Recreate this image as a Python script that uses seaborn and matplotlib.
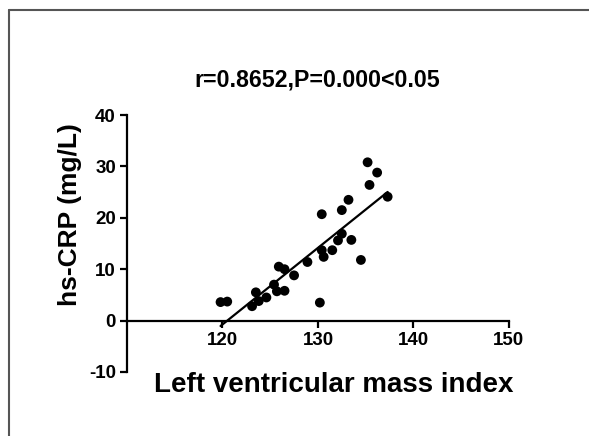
import numpy as np
import pandas as pd
import matplotlib
matplotlib.use('Agg')
import matplotlib.pyplot as plt
import seaborn as sns
from matplotlib.lines import Line2D

# data
lvmi = [119.8, 120.5, 123.1, 123.5, 123.8, 124.6, 125.4, 125.7, 125.9, 126.5,
        126.5, 127.5, 128.9, 130.2, 130.4, 130.4, 130.6, 131.5, 132.1, 132.5,
        132.5, 133.2, 133.5, 134.5, 135.2, 135.4, 136.2, 137.3]
crp = [3.6, 3.7, 2.8, 5.5, 3.8, 4.5, 7.0, 5.7, 10.5, 10.0,
       5.8, 8.8, 11.4, 3.5, 20.7, 13.7, 12.4, 13.7, 15.6, 16.9,
       21.5, 23.5, 15.7, 11.8, 30.8, 26.4, 28.8, 24.1]
x_ticks = [120, 130, 140, 150]
y_ticks = [-10, 0, 10, 20, 30, 40]
title = 'r=0.8652,P=0.000<0.05'

df = pd.DataFrame({'lvmi': lvmi, 'crp': crp})

sns.set_style('ticks')
plt.rcParams['font.family'] = ['Liberation Sans', 'DejaVu Sans']
plt.rcParams['font.weight'] = 'bold'
plt.rcParams['text.color'] = 'black'
plt.rcParams['xtick.color'] = 'black'
plt.rcParams['ytick.color'] = 'black'
plt.rcParams['axes.edgecolor'] = 'black'
plt.rcParams['axes.unicode_minus'] = False

fig = plt.figure(figsize=(5.89, 4.36), dpi=100)
ax = fig.add_axes([0.2156, 0.1468, 0.864 - 0.2156, 0.7362 - 0.1468])

sns.regplot(data=df, x='lvmi', y='crp', ci=None, ax=ax,
            scatter_kws={'s': 50, 'color': 'black', 'edgecolor': 'none', 'alpha': 1},
            line_kws={'color': 'black', 'lw': 1.6})

ax.set_xlim(110, 150)
ax.set_ylim(-10, 40)
ax.set_xticks(x_ticks)
ax.set_yticks(y_ticks)
ax.spines['bottom'].set_position(('data', 0))
ax.spines['bottom'].set_bounds(110, 150)
ax.spines['top'].set_visible(False)
ax.spines['right'].set_visible(False)
for s in ['left', 'bottom']:
    ax.spines[s].set_linewidth(1.6)
ax.tick_params(width=1.6, length=5, labelsize=13.5, pad=3)
for lab in ax.get_xticklabels() + ax.get_yticklabels():
    lab.set_fontweight('bold')

ax.set_xlabel('')
ax.set_ylabel('')
fig.text(0.566, 0.101, 'Left ventricular mass index', ha='center', va='baseline',
         fontsize=20, fontweight='bold')
fig.text(0.119, 0.509, 'hs-CRP (mg/L)', ha='center', va='center', rotation=90,
         fontsize=19, fontweight='bold')
fig.text(0.539, 0.8005, title, ha='center', va='baseline',
         fontsize=16.7, fontweight='bold')

# grey frame at top and left like the screenshot
fig.add_artist(Line2D([0.016, 1.0], [0.978, 0.978], transform=fig.transFigure,
                      color='#555555', lw=1.5))
fig.add_artist(Line2D([0.016, 0.016], [0.0, 0.978], transform=fig.transFigure,
                      color='#555555', lw=1.5))

fig.savefig('out.png', dpi=100)
